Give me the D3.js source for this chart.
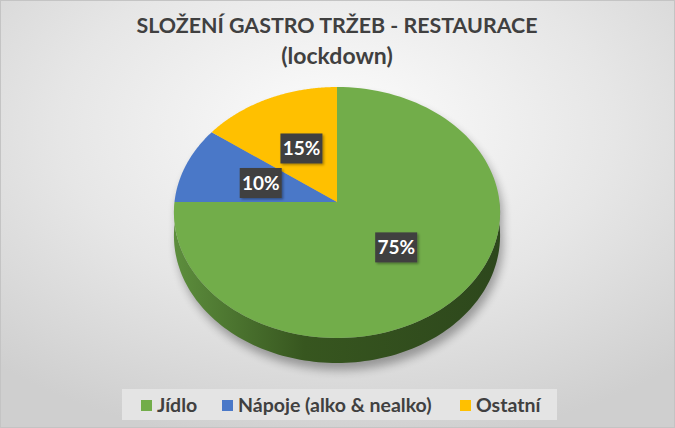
<!DOCTYPE html>
<html><head><meta charset="utf-8">
<script src="https://cdn.jsdelivr.net/npm/d3@7"></script>
<style>html,body{margin:0;padding:0;background:#fff}svg{display:block}</style>
</head><body>
<script>
const categories = ["Jídlo", "Nápoje (alko & nealko)", "Ostatní"];
const values = [75, 10, 15];
const labels = ["75%", "10%", "15%"];
const titleLines = ["SLOŽENÍ GASTRO TRŽEB - RESTAURACE", "(lockdown)"];

const W = 675, H = 428;
const palette = d3.scaleOrdinal().domain(categories).range(["#72ad4a", "#4a78c8", "#ffc000"]);
const FONT = "Lato, 'Open Sans', sans-serif";

const svg = d3.select("body").append("svg").attr("width", W).attr("height", H);
const defs = svg.append("defs");

// background
const bg = defs.append("radialGradient").attr("id", "bg").attr("cx", "50%").attr("cy", "30%").attr("r", "75%");
bg.append("stop").attr("offset", "0%").attr("stop-color", "#fdfdfd");
bg.append("stop").attr("offset", "55%").attr("stop-color", "#e6e6e6");
bg.append("stop").attr("offset", "100%").attr("stop-color", "#cfcfcf");
svg.append("rect").attr("x", 0.5).attr("y", 0.5).attr("width", W - 1).attr("height", H - 1)
  .attr("fill", "url(#bg)").attr("stroke", "#c4c4c4");

// filters
const blur = defs.append("filter").attr("id", "blur").attr("x", "-20%").attr("y", "-20%").attr("width", "140%").attr("height", "140%");
blur.append("feGaussianBlur").attr("stdDeviation", 5);
const ds = defs.append("filter").attr("id", "ds").attr("x", "-30%").attr("y", "-30%").attr("width", "160%").attr("height", "160%");
ds.append("feDropShadow").attr("dx", 1.5).attr("dy", 1.5).attr("stdDeviation", 1.2).attr("flood-color", "#000").attr("flood-opacity", 0.35);

// side gradient
const sg = defs.append("linearGradient").attr("id", "side").attr("x1", "0%").attr("x2", "100%");
sg.append("stop").attr("offset", "0%").attr("stop-color", "#5d8e3d");
sg.append("stop").attr("offset", "40%").attr("stop-color", "#37561f");
sg.append("stop").attr("offset", "100%").attr("stop-color", "#2d471c");

// title
const title = svg.append("g").attr("font-family", FONT).attr("font-weight", "bold").attr("fill", "#404040").attr("text-anchor", "middle");
title.selectAll("text").data(titleLines).join("text")
  .attr("x", 337).attr("y", (d, i) => 33 + i * 31).attr("font-size", (d, i) => i === 0 ? 21.4 : 23).text(d => d);

// perspective projection of the pie
const cx = 337, cy = 202, K = 162.5, A = 124.6, C = 0.0837, T = 22.9;
function proj(theta, r, depth) {
  const u = r * Math.sin(theta), v = -r * Math.cos(theta);
  const s = 1 / (1 - C * v);
  return [cx + K * u * s, cy + A * v * s + depth * T * s];
}
const arcs = d3.pie().sort(null).value(d => d)(values);
const line = d3.line();
const angleSteps = (a0, a1) => d3.range(0, 1.0001, 1 / 120).map(t => a0 + (a1 - a0) * t);

// silhouette (for shadow)
const backRim = angleSteps(-Math.PI / 2, Math.PI / 2).map(a => proj(a, 1, 0));
const frontBot = angleSteps(Math.PI / 2, 3 * Math.PI / 2).map(a => proj(a, 1, 1));
svg.append("path").attr("d", line(backRim.concat(frontBot)) + "Z")
  .attr("transform", "translate(3,7)")
  .attr("fill", "#000").attr("opacity", 0.32).attr("filter", "url(#blur)");

// side (front half, visible)
const topRim = angleSteps(Math.PI / 2, 3 * Math.PI / 2).map(a => proj(a, 1, 0));
const botRim = angleSteps(3 * Math.PI / 2, Math.PI / 2).map(a => proj(a, 1, 1));
svg.append("path").attr("d", line(topRim.concat(botRim)) + "Z").attr("fill", "url(#side)");

// top faces
svg.append("g").selectAll("path").data(arcs).join("path")
  .attr("d", d => line([proj(0, 0, 0)].concat(angleSteps(d.startAngle, d.endAngle).map(a => proj(a, 1, 0)))) + "Z")
  .attr("fill", (d, i) => palette(categories[i]));

// data labels
const lab = svg.append("g").selectAll("g").data(arcs).join("g")
  .attr("transform", d => { const p = proj((d.startAngle + d.endAngle) / 2, 0.5, 0); return `translate(${p[0]},${p[1]})`; });
lab.append("rect").attr("x", -21).attr("y", -15).attr("width", 42).attr("height", 30)
  .attr("fill", "#404040").attr("filter", "url(#ds)");
lab.append("text").attr("text-anchor", "middle").attr("dy", "0.36em")
  .attr("font-family", FONT).attr("font-weight", "bold").attr("font-size", 19).attr("fill", "#fff")
  .text((d, i) => labels[i]);

// legend
svg.append("rect").attr("x", 122).attr("y", 389).attr("width", 435).attr("height", 31).attr("fill", "#e4e4e4");
const legX = [141, 222, 460];
const leg = svg.append("g").selectAll("g").data(categories).join("g")
  .attr("transform", (d, i) => `translate(${legX[i]},400)`);
leg.append("rect").attr("width", 11).attr("height", 11).attr("fill", d => palette(d));
leg.append("text").attr("x", 16).attr("y", 12).attr("font-family", FONT).attr("font-weight", "bold")
  .attr("font-size", 19.5).attr("fill", "#404040").text(d => d);
</script>
</body></html>
